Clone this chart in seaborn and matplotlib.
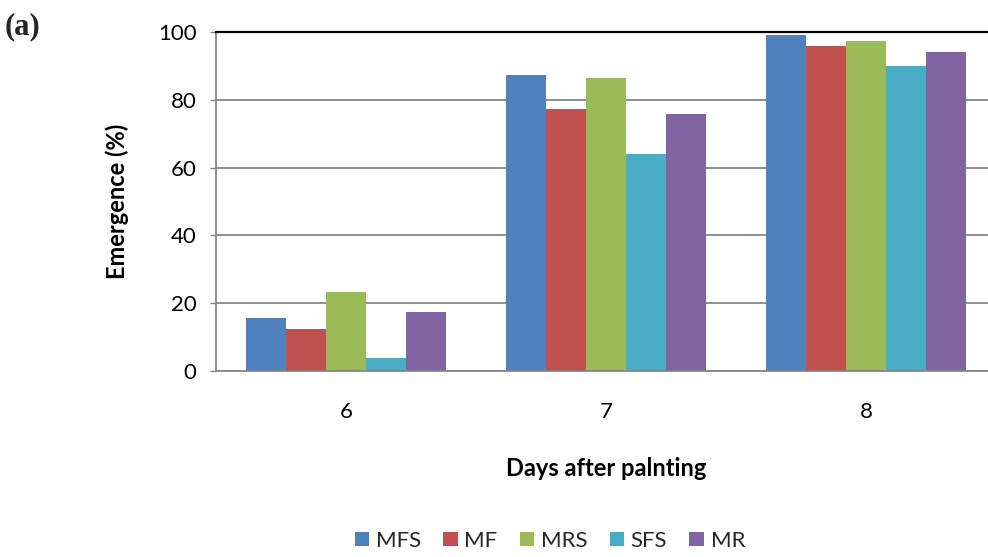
import matplotlib
matplotlib.use("Agg")
import matplotlib.pyplot as plt
import seaborn as sns
import pandas as pd

sns.set_theme(style='white')
plt.rcParams['font.family'] = ['Lato', 'DejaVu Sans']

# data
days = ['6', '7', '8']
treatments = ['MFS', 'MF', 'MRS', 'SFS', 'MR']
mfs = [15.7, 87.4, 99.1]
mf = [12.3, 77.4, 95.9]
mrs = [23.2, 86.5, 97.4]
sfs = [3.8, 64.1, 90.0]
mr = [17.3, 75.8, 94.1]
colors = ['#4F81BD', '#C0504D', '#9BBB59', '#4BACC6', '#8064A2']

series = [mfs, mf, mrs, sfs, mr]
rows = []
for name, vals in zip(treatments, series):
    for d, v in zip(days, vals):
        rows.append({'day': d, 'treatment': name, 'emergence': v})
df = pd.DataFrame(rows)

fig = plt.figure(figsize=(9.88, 5.57), dpi=100)
ax = fig.add_axes([216 / 988, 1 - 371 / 557, 780 / 988, 339 / 557])

sns.barplot(data=df, x='day', y='emergence', hue='treatment', order=days,
            hue_order=treatments, palette=colors, width=0.77, gap=0,
            linewidth=0, saturation=1, ax=ax, legend=True)

ax.set_ylim(0, 100)
ax.set_yticks([0, 20, 40, 60, 80, 100])
ax.yaxis.grid(True, color='#868686', linewidth=1.3)
ax.set_axisbelow(True)
for s in ['left', 'bottom']:
    ax.spines[s].set_color('#868686')
    ax.spines[s].set_linewidth(1.3)
ax.spines['top'].set_color('black')
ax.spines['top'].set_linewidth(1.6)
ax.spines['right'].set_visible(False)

ax.tick_params(axis='y', left=True, length=4, color='#868686', width=1,
               pad=10, labelsize=16, labelcolor='black')
ax.tick_params(axis='x', bottom=False, length=0, pad=22, labelsize=16,
               labelcolor='black')

ax.set_ylabel('Emergence (%)', fontsize=17, fontweight='bold', color='black')
ax.set_xlabel('Days after palnting', fontsize=17, fontweight='bold', color='black')
ax.yaxis.set_label_coords(-0.112, 0.5)
ax.xaxis.set_label_coords(0.5, -0.254)

handles, labels = ax.get_legend_handles_labels()
ax.get_legend().remove()
fig.legend(handles, labels, loc='center', bbox_to_anchor=(550 / 988, 0.029),
           ncol=5, frameon=False, fontsize=16, handlelength=0.65,
           handleheight=0.65, handletextpad=0.3, columnspacing=1.0)

fig.text(5 / 988, 1 - 27 / 557, '(a)', fontsize=22, fontweight='bold',
         family='Liberation Serif', va='center', ha='left')

plt.savefig('out.png', dpi=100)
